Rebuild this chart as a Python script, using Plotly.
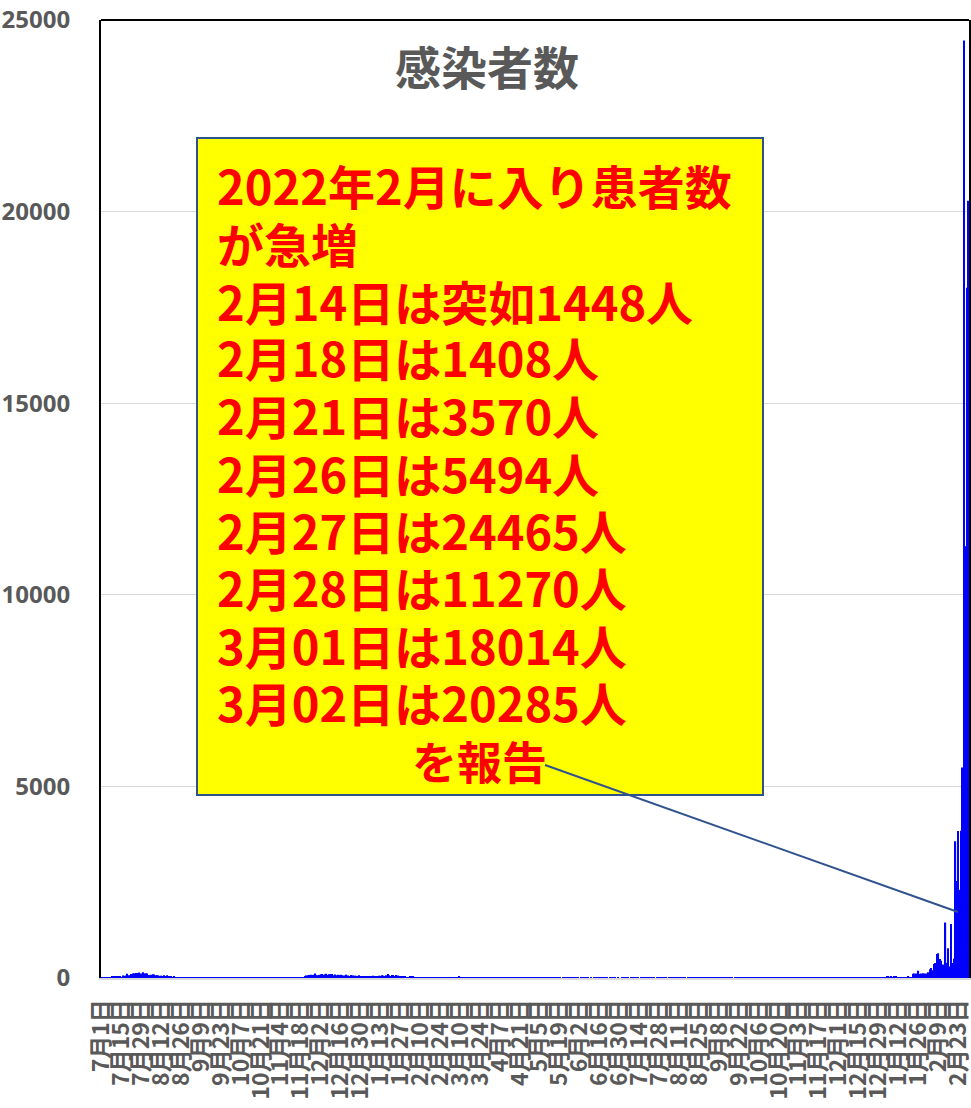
import pandas as pd
import plotly.graph_objects as go

# ---- data (daily new infections, 2020-07-01 .. 2022-03-02) ----
start_date = "2020-07-01"
end_date = "2022-03-02"

jul_2020 = [1,2,1,3,9,9,14,42,34,38,30,38,52,48,19,67,58,64,108,73,61,105,118,123,133,128,145,106,118,149,121]
aug_2020 = [125,115,80,80,85,95,89,69,72,69,33,62,48,69,44,72,49,44,33,25,27,18,18,9,9,15,11,18,15,8,8]
sep_2020 = [8,8,15,14,9,10,6,8,8,12,6,5,9,6,2,9,9,15,5,14,23,9,11,10,7,9,6,9,11,6]
oct_2020 = [9,5,6,13,6,8,13,8,10,9,11,5,8,6,11,10,5,5,9,4,7,3,5,10,5,3,13,5,5,4,3]
nov_2020 = [7,7,5,7,5,5,8,10,3,1,10,11,8,9,21,13,8,22,18,26,43,68,73,80,84,79,85,115,76,73]
dec_2020 = [82,100,105,88,94,111,78,100,102,106,71,94,72,86,80,87,65,65,67,88,68,53,76,50,69,61,56,53,72,48,34]
jan_2021 = [34,53,43,36,27,37,35,60,44,46,36,60,56,69,62,55,75,107,73,52,81,79,54,76,62,42,43,41,53,33,18]
feb_2021 = [21,21,29,28,31,18,22,10,25,13,15,12,10,8,10,11,19,17,14,14,13,22,11,23,20,16,14,10]
mar_2021 = [23,10,11,9,11,7,9,13,42,18,15,23,19,14,11,13,10,15,10,8,11,6,11,9,9,8,14,9,5,11,6]
apr_2021 = [8,12,4,9,4,6,9,7,9,4,3,7,7,8,5,2,2,10,6,5,9,6,3,5,6,4,5,8,3,19]
may_2021 = [12,3,3,5,2,1,4,3,2,3,2,4,3,1,2,1,1,2,1,0,2,3,2,1,4,1,1,2,2,1,2]
jun_2021 = [1,0,3,2,1,1,2,1,0,1,0,3,2,1,3,2,0,1,2,1,1,0,2,1,1,2,1,0,1,0]
jul_2021 = [0,1,2,1,1,2,0,2,1,3,1,2,1,0,2,3,1,1,2,0,1,2,3,1,0,2,1,3,1,2,1]
aug_2021 = [2,1,0,3,2,1,4,2,1,3,2,1,4,2,1,0,2,3,1,2,4,1,2,3,1,2,0,1,3,2,1]
sep_2021 = [2,1,3,2,1,4,2,1,3,2,1,2,4,3,1,2,1,0,3,2,1,2,3,1,4,2,1,2,3,1]
oct_2021 = [2,1,3,2,4,1,2,3,1,2,5,3,1,2,4,3,1,2,1,3,2,4,1,2,1,3,2,1,3,2,1]
nov_2021 = [2,3,1,2,1,4,2,3,1,2,3,1,4,2,1,3,2,1,2,5,3,2,1,3,4,2,1,3,2,4]
dec_2021 = [3,2,5,4,2,3,6,4,3,5,2,4,3,5,4,6,2,3,5,4,7,5,3,6,8,5,4,7,9,10,12]
jan_2022 = [12,11,14,38,29,13,28,19,27,27,15,17,21,19,20,10,12,26,30,25,16,110,120,115,62,190,105,116,124,100,118]
feb_2022 = [120,150,227,260,200,365,390,627,645,496,450,350,250,1448,390,775,300,1408,390,500,
            3570,2530,3838,2300,3840,5494,24465,11270]
mar_2022 = [18014,20285]

tick_labels = ["7月1日","7月15日","7月29日","8月12日","8月26日","9月9日","9月23日","10月7日",
               "10月21日","11月4日","11月18日","12月2日","12月16日","12月30日","1月13日","1月27日",
               "2月10日","2月24日","3月10日","3月24日","4月7日","4月21日","5月5日","5月19日",
               "6月2日","6月16日","6月30日","7月14日","7月28日","8月11日","8月25日","9月8日",
               "9月22日","10月6日","10月20日","11月3日","11月17日","12月1日","12月15日","12月29日",
               "1月12日","1月26日","2月9日","2月23日"]
y_tick_vals = [0, 5000, 10000, 15000, 20000, 25000]
y_tick_text = ["0", "5000", "10000", "15000", "20000", "25000"]

title_text = "感染者数"
box_lines = ["2022年2月に入り患者数", "が急増", "2月14日は突如1448人", "2月18日は1408人",
             "2月21日は3570人", "2月26日は5494人", "2月27日は24465人", "2月28日は11270人",
             "3月01日は18014人", "3月02日は20285人"]
box_last = "を報告"

values = (jul_2020 + aug_2020 + sep_2020 + oct_2020 + nov_2020 + dec_2020 + jan_2021 + feb_2021 +
          mar_2021 + apr_2021 + may_2021 + jun_2021 + jul_2021 + aug_2021 + sep_2021 + oct_2021 +
          nov_2021 + dec_2021 + jan_2022 + feb_2022 + mar_2022)
dates = pd.date_range(start_date, end_date, freq="D")
assert len(dates) == len(values)
tick_dates = pd.date_range(start_date, periods=len(tick_labels), freq="14D")

fig = go.Figure(go.Bar(x=dates, y=values, marker=dict(color="#0000FF", line=dict(width=0))))

W, H = 971, 1108
L, R, T, B = 101, 969, 20, 978
def px(x): return (x - L) / (R - L)
def py(y): return (B - y) / (B - T)

gray = "#595959"
cjk = "Noto Sans CJK JP"
fig.update_layout(
    width=W, height=H, autosize=False,
    margin=dict(l=L, r=W - R, t=T, b=H - B, pad=0),
    paper_bgcolor="white", plot_bgcolor="white",
    showlegend=False, bargap=0.1,
    xaxis=dict(type="date", automargin=False,
               range=[pd.Timestamp(start_date) - pd.Timedelta(hours=12),
                      pd.Timestamp(end_date) + pd.Timedelta(hours=12)],
               tickmode="array", tickvals=tick_dates, ticktext=tick_labels,
               tickangle=-90, ticks="", showgrid=False,
               showline=True, linecolor="#D9D9D9", linewidth=2,
               tickfont=dict(family=cjk, size=23, color=gray, weight="bold"),
               ticklabelstandoff=10, ticklabeloverflow="allow", zeroline=False),
    yaxis=dict(range=[0, 25000], tickmode="array", tickvals=y_tick_vals, ticktext=y_tick_text,
               automargin=False,
               showgrid=True, gridcolor="#D9D9D9", gridwidth=1,
               showline=True, linecolor="black", linewidth=2, mirror=True,
               ticks="", zeroline=False,
               tickfont=dict(family="Open Sans", size=24, color=gray, weight="bold"),
               ticklabelstandoff=24),
)

shapes = [
    dict(type="line", xref="paper", yref="paper", x0=0, x1=1, y0=1, y1=1,
         line=dict(color="black", width=2)),
    dict(type="rect", xref="paper", yref="paper", x0=px(197), x1=px(763), y0=py(795), y1=py(138),
         fillcolor="#FFFF00", line=dict(color="#2F528F", width=2), layer="above"),
    dict(type="line", xref="paper", yref="paper", x0=px(545), y0=py(765), x1=px(958), y1=py(912),
         line=dict(color="#2F528F", width=2), layer="above"),
]
fig.update_layout(shapes=shapes)

ann = [dict(text=title_text, xref="paper", yref="paper", x=px(487), y=py(65),
            xanchor="center", yanchor="middle", showarrow=False,
            font=dict(family=cjk, size=46, color=gray, weight="bold"))]
line_y = [185, 242, 300, 357, 414, 472, 529, 587, 644, 701]
for t, yy in zip(box_lines, line_y):
    ann.append(dict(text=t, xref="paper", yref="paper", x=px(215), y=py(yy),
                    xanchor="left", yanchor="middle", showarrow=False,
                    font=dict(family=cjk, size=47, color="#FF0000", weight="bold")))
ann.append(dict(text=box_last, xref="paper", yref="paper", x=px(479), y=py(760),
                xanchor="center", yanchor="middle", showarrow=False,
                font=dict(family=cjk, size=45, color="#FF0000", weight="bold")))
fig.update_layout(annotations=ann)

fig.write_html("out.html", config={"displayModeBar": False},
               post_script="document.body.style.margin='0';document.documentElement.style.overflow='hidden';")
